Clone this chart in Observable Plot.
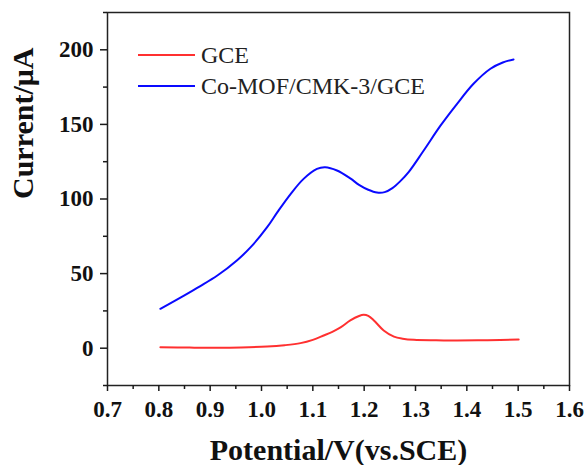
<!DOCTYPE html>
<html>
<head>
<meta charset="utf-8">
<script src="https://cdn.jsdelivr.net/npm/d3@7"></script>
<script src="https://cdn.jsdelivr.net/npm/@observablehq/plot@0.6"></script>
<style>
  html, body { margin: 0; padding: 0; background: #fff; }
  #wrap { position: relative; width: 585px; height: 465px; }
  #legend { position: absolute; left: 138px; top: 40px; font-family: "Liberation Serif", "Times New Roman", serif; font-size: 24px; color: #222; }
  #legend .row { display: flex; align-items: center; height: 30.7px; }
  #legend svg { margin-right: 6px; }
</style>
</head>
<body>
<div id="wrap"></div>
<script>
// Series names and colours
const seriesNames = ["GCE", "Co-MOF/CMK-3/GCE"];
const seriesColors = ["#ff3030", "#0a0aff"];

// GCE (red)
const gceX = [0.803, 0.86, 0.914, 0.96, 1.011, 1.045, 1.076, 1.1, 1.121, 1.138, 1.154, 1.173, 1.19, 1.199, 1.208, 1.219, 1.238, 1.258, 1.275, 1.297, 1.34, 1.381, 1.44, 1.501];
const gceY = [0.7, 0.4, 0.3, 0.5, 1.1, 2.0, 3.4, 5.6, 8.5, 11.0, 13.9, 18.6, 21.6, 22.4, 21.7, 18.6, 11.9, 7.8, 6.4, 5.6, 5.3, 5.2, 5.4, 5.8];

// Co-MOF/CMK-3/GCE (blue)
const mofX = [0.803, 0.849, 0.88, 0.914, 0.952, 0.979, 1.011, 1.031, 1.057, 1.082, 1.108, 1.124, 1.147, 1.173, 1.19, 1.208, 1.225, 1.24, 1.255, 1.27, 1.287, 1.316, 1.349, 1.381, 1.413, 1.446, 1.47, 1.491];
const mofY = [26.4, 35.3, 41.5, 48.7, 58.8, 67.7, 81.1, 91.2, 103.5, 113.5, 120.2, 121.3, 119.1, 113.8, 109.5, 106.2, 104.3, 104.6, 107.3, 111.8, 118.2, 132.5, 149.3, 163.8, 177.2, 187.3, 191.5, 193.5];

// Axis ticks
const xTicks = [0.7, 0.8, 0.9, 1.0, 1.1, 1.2, 1.3, 1.4, 1.5, 1.6];
const xMinor = [0.75, 0.85, 0.95, 1.05, 1.15, 1.25, 1.35, 1.45, 1.55];
const yTicks = [0, 50, 100, 150, 200];
const yMinor = [-25, 25, 75, 125, 175, 225];
const xLabel = "Potential/V(vs.SCE)";
const yLabel = "Current/μA";

const gce = gceX.map((x, i) => ({x, y: gceY[i], s: seriesNames[0]}));
const mof = mofX.map((x, i) => ({x, y: mofY[i], s: seriesNames[1]}));

const font = "'Liberation Serif', 'Times New Roman', serif";

const chart = Plot.plot({
  width: 585,
  height: 465,
  marginLeft: 107,
  marginRight: 16,
  marginTop: 12,
  marginBottom: 80,
  style: {fontFamily: font, color: "#1a1a1a", background: "#fff", overflow: "visible"},
  x: {domain: [0.7, 1.6]},
  y: {domain: [-25, 225]},
  marks: [
    Plot.frame({stroke: "#222", strokeWidth: 1.5}),
    Plot.axisX(xTicks, {tickSize: 6, tickFormat: () => "", label: null, strokeWidth: 1.5}),
    Plot.axisX(xMinor, {tickSize: 4, tickFormat: () => "", label: null, strokeWidth: 1.5}),
    Plot.axisY(yTicks, {tickSize: 7, tickFormat: () => "", label: null, strokeWidth: 1.5}),
    Plot.axisY(yMinor, {tickSize: 4, tickFormat: () => "", label: null, strokeWidth: 1.5}),
    Plot.text(xTicks, {x: d => d, frameAnchor: "bottom", dy: 24, text: d => d.toFixed(1), lineAnchor: "middle", fontSize: 23, fontWeight: "bold", fontFamily: font, fill: "#111"}),
    Plot.text(yTicks, {y: d => d, frameAnchor: "left", dx: -14, text: d => String(d), textAnchor: "end", lineAnchor: "middle", fontSize: 23, fontWeight: "bold", fontFamily: font, fill: "#111"}),
    Plot.line(gce, {x: "x", y: "y", stroke: seriesColors[0], strokeWidth: 2, curve: "catmull-rom"}),
    Plot.line(mof, {x: "x", y: "y", stroke: seriesColors[1], strokeWidth: 2, curve: "catmull-rom"}),
    Plot.text([xLabel], {frameAnchor: "bottom", text: d => d, dy: 65, lineAnchor: "middle", fontSize: 30, fontWeight: "bold", fontFamily: font, fill: "#111"}),
    Plot.text([yLabel], {frameAnchor: "left", text: d => d, dx: -84, rotate: -90, lineAnchor: "middle", fontSize: 30, fontWeight: "bold", fontFamily: font, fill: "#111"})
  ]
});

const wrap = document.getElementById("wrap");
wrap.appendChild(chart);

const legend = document.createElement("div");
legend.id = "legend";
seriesNames.forEach((name, i) => {
  const row = document.createElement("div");
  row.className = "row";
  row.innerHTML = `<svg width="57" height="4"><line x1="0" x2="57" y1="2" y2="2" stroke="${seriesColors[i]}" stroke-width="2"/></svg><span>${name}</span>`;
  legend.appendChild(row);
});
wrap.appendChild(legend);
</script>
</body>
</html>
